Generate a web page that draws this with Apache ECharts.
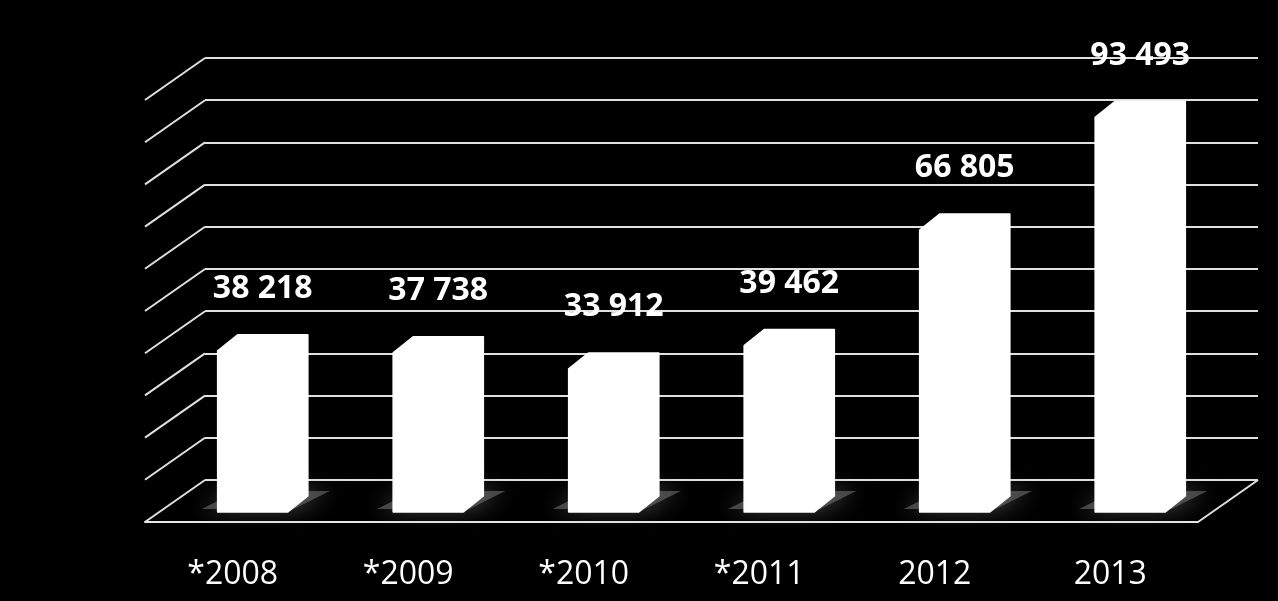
<!DOCTYPE html>
<html>
<head>
<meta charset="utf-8">
<script src="https://cdn.jsdelivr.net/npm/echarts@6/dist/echarts.min.js"></script>
<style>
  html, body { margin: 0; padding: 0; background: #000; }
  #main { width: 1278px; height: 601px; }
</style>
</head>
<body>
<div id="main"></div>
<script>
// data
const years = ['*2008', '*2009', '*2010', '*2011', '2012', '2013'];
const counts = [38218, 37738, 33912, 39462, 66805, 93493];
const gridTicks = [0, 10000, 20000, 30000, 40000, 50000, 60000, 70000, 80000, 90000, 100000];

// 3d look: side wall / floor depth, and bar depth (pixels)
const WALL_DX = -60, WALL_DY = 42;
const FRONT_DX = -40, FRONT_DY = 32;
const BACK_DX = -20, BACK_DY = 16;

const fmt = v => String(v).replace(/\B(?=(\d{3})+(?!\d))/g, ' ');

const chart = echarts.init(document.getElementById('main'));

chart.setOption({
    backgroundColor: '#000',
    animation: false,
    grid: [
        // back wall
        { left: 205, right: 20, top: 58, bottom: 121 },
        // front edge of the floor
        { left: 145, right: 80, top: 100, bottom: 79 }
    ],
    xAxis: [{
        gridIndex: 0,
        type: 'category',
        data: years,
        show: false
    }, {
        gridIndex: 1,
        type: 'category',
        data: years,
        axisLine: { lineStyle: { color: '#e8e8e8', width: 2 } },
        axisTick: { length: 11, lineStyle: { color: '#e8e8e8', width: 2 } },
        axisLabel: {
            color: '#fff',
            fontFamily: 'Open Sans',
            fontSize: 32,
            margin: 37
        }
    }],
    yAxis: [{
        gridIndex: 0,
        type: 'value',
        min: 0,
        max: 100000,
        interval: 10000,
        axisLine: { show: false },
        axisTick: { show: false },
        axisLabel: { show: false },
        splitLine: { lineStyle: { color: '#e0e0e0', width: 2 } }
    }, {
        gridIndex: 1,
        type: 'value',
        min: 0,
        max: 100000,
        show: false,
        splitLine: { show: false }
    }],
    series: [{
        // left wall + floor edges
        name: 'wall',
        type: 'custom',
        xAxisIndex: 0,
        yAxisIndex: 0,
        silent: true,
        data: gridTicks.map(v => [0, v]),
        renderItem: function (params, api) {
            const cs = params.coordSys;
            const y = api.coord([0, api.value(1)])[1];
            const ls = { stroke: '#e0e0e0', lineWidth: 2 };
            const children = [{
                type: 'line',
                shape: { x1: cs.x, y1: y, x2: cs.x + WALL_DX, y2: y + WALL_DY },
                style: ls
            }];
            if (api.value(1) === 0) {
                const xr = cs.x + cs.width;
                children.push({
                    type: 'line',
                    shape: { x1: xr, y1: y, x2: xr + WALL_DX, y2: y + WALL_DY },
                    style: ls
                });
            }
            return { type: 'group', children: children };
        }
    }, {
        name: 'counts',
        type: 'custom',
        xAxisIndex: 0,
        yAxisIndex: 0,
        data: counts.map((v, i) => [i, v]),
        renderItem: function (params, api) {
            const i = api.value(0);
            const v = api.value(1);
            const base = api.coord([i, 0]);
            const top = api.coord([i, v]);
            const h = base[1] - top[1];
            const hw = api.size([1, 0])[0] * 0.2;
            const fx = base[0] + FRONT_DX, fy = base[1] + FRONT_DY;
            const bx = base[0] + BACK_DX, by = base[1] + BACK_DY;
            return {
                type: 'group',
                children: [{
                    // floor shadow
                    type: 'polygon',
                    shape: { points: [
                        [fx - hw - 16, fy - 3],
                        [fx + hw + 6, fy - 3],
                        [bx + hw + 22, by - 5],
                        [bx - hw, by - 5]
                    ] },
                    style: {
                        fill: 'rgba(110,110,110,0.6)',
                        shadowBlur: 22,
                        shadowColor: 'rgba(130,130,130,1)'
                    }
                }, {
                    type: 'polygon',
                    shape: { points: [
                        [fx - hw, fy],
                        [fx - hw, fy - h],
                        [bx - hw, by - h],
                        [bx + hw, by - h],
                        [bx + hw, by],
                        [fx + hw, fy]
                    ] },
                    style: { fill: '#fff', stroke: '#fff', lineWidth: 1.5, lineJoin: 'round' }
                }, {
                    type: 'text',
                    x: (fx - hw + bx + hw) / 2,
                    y: by - h - 46,
                    style: {
                        text: fmt(v),
                        fill: '#fff',
                        font: 'bold 32px "Open Sans"',
                        align: 'center',
                        verticalAlign: 'middle'
                    }
                }]
            };
        }
    }]
});
</script>
</body>
</html>
